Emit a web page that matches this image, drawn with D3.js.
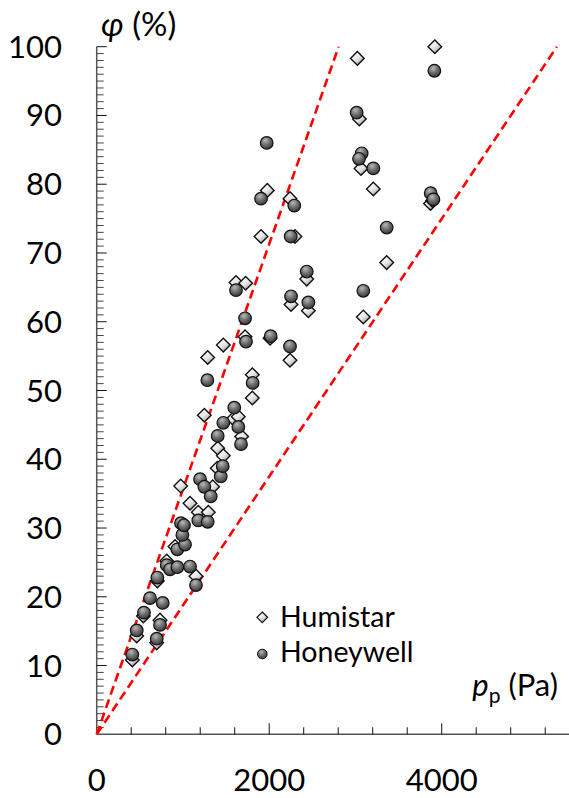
<!DOCTYPE html>
<html>
<head>
<meta charset="utf-8">
<script src="https://cdn.jsdelivr.net/npm/d3@7"></script>
<style>
  html, body { margin: 0; padding: 0; background: #fff; }
  svg { display: block; font-family: Lato, "Open Sans", sans-serif; }
</style>
</head>
<body>
<svg id="chart" width="569" height="798"></svg>
<script>
// Partial vapour pressure p_p (Pa) and relative humidity φ (%)
const humistarP = [413, 464, 541, 696, 734, 703, 812, 908, 974, 1082, 1178, 1294, 1151, 1248, 1287,
  1345, 1398, 1403, 1468, 1468, 1584, 1642, 1681, 1804, 1804, 1615, 1727, 1720, 2010, 2241,
  1905, 1978, 2241, 2299, 2435, 2253, 2454, 3022, 3045, 3064, 3207, 3362, 3091, 3870, 3895, 3920];
const humistarPhi = [10.8, 14.3, 17.2, 13.3, 16.6, 22.3, 25.2, 27.3, 36.1, 33.6, 32.3, 32.3, 23.0, 46.4, 54.8,
  36.0, 38.7, 41.6, 40.5, 56.6, 45.9, 46.2, 43.3, 52.3, 48.9, 65.7, 65.6, 57.8, 57.6, 54.4,
  72.4, 79.1, 77.9, 72.4, 66.2, 62.5, 61.6, 98.3, 89.5, 82.3, 79.3, 68.6, 60.7, 77.2, 77.6, 100];

const honeywellP = [413, 464, 548, 618, 696, 734, 765, 703, 812, 850, 935, 935, 1024, 993, 977, 1012,
  1082, 1151, 1178, 1287, 1198, 1248, 1322, 1283, 1403, 1438, 1461, 1468, 1595, 1642, 1673,
  1808, 1615, 1720, 1731, 2017, 2241, 1905, 1971, 2291, 2249, 2435, 2253, 2454,
  3014, 3072, 3041, 3207, 3362, 3091, 3872, 3903, 3915];
const honeywellPhi = [11.6, 15.1, 17.7, 19.8, 13.9, 15.9, 19.1, 22.8, 24.6, 24.0, 24.3, 26.9, 27.6, 29.0, 30.7, 30.4,
  24.4, 21.7, 31.1, 30.9, 37.1, 36.0, 34.6, 51.5, 43.4, 37.5, 39.0, 45.3, 47.5, 44.7, 42.2,
  51.1, 64.6, 60.5, 57.1, 57.9, 56.4, 77.9, 86.0, 76.9, 72.4, 67.3, 63.7, 62.8,
  90.4, 84.5, 83.7, 82.3, 73.7, 64.5, 78.7, 77.8, 96.5];

// Saturation pressures (Pa) bounding the dashed reference lines
const saturationP = [2805, 5335];

const seriesNames = ["Humistar", "Honeywell"];
const xTickLabels = [0, 2000, 4000];
const yTickLabels = [0, 10, 20, 30, 40, 50, 60, 70, 80, 90, 100];

const svg = d3.select("#chart");
const x = d3.scaleLinear().domain([0, 5500]).range([96.7, 571.1]);
const y = d3.scaleLinear().domain([0, 100]).range([734.3, 46.7]);

// gradients for the markers
const defs = svg.append("defs");
const rg = defs.append("radialGradient").attr("id", "ballGrad")
  .attr("cx", "40%").attr("cy", "30%").attr("r", "70%");
rg.append("stop").attr("offset", "0%").attr("stop-color", "#b8b8b8");
rg.append("stop").attr("offset", "55%").attr("stop-color", "#6a6a6a");
rg.append("stop").attr("offset", "100%").attr("stop-color", "#3a3a3a");
const lg = defs.append("linearGradient").attr("id", "diaGrad")
  .attr("x1", "20%").attr("y1", "10%").attr("x2", "80%").attr("y2", "90%");
lg.append("stop").attr("offset", "0%").attr("stop-color", "#ffffff");
lg.append("stop").attr("offset", "55%").attr("stop-color", "#e4e4e4");
lg.append("stop").attr("offset", "100%").attr("stop-color", "#9a9a9a");

// y axis
const yAxis = svg.append("g").attr("transform", `translate(${x(0)},0)`);
yAxis.append("line").attr("x1", 0).attr("x2", 0).attr("y1", y(100)).attr("y2", y(0))
  .attr("stroke", "#555").attr("stroke-width", 1.5);
yAxis.selectAll("line.minor").data(d3.range(1, 100)).join("line").attr("class", "minor")
  .attr("x1", 0).attr("x2", d => d % 10 === 0 ? 10 : 7)
  .attr("y1", d => y(d)).attr("y2", d => y(d))
  .attr("stroke", d => d % 10 === 0 ? "#111" : "#444").attr("stroke-width", 1);
yAxis.append("line").attr("x1", 0).attr("x2", 10).attr("y1", y(100)).attr("y2", y(100))
  .attr("stroke", "#111").attr("stroke-width", 1);
svg.selectAll("text.ytick").data(yTickLabels).join("text").attr("class", "ytick")
  .attr("x", 62).attr("y", d => y(d) + 11)
  .attr("text-anchor", "end").attr("font-size", 31).attr("fill", "#000")
  .text(d => d);

// x axis
const xAxis = svg.append("g").attr("transform", `translate(0,${y(0)})`);
xAxis.append("line").attr("x1", x(0)).attr("x2", 569).attr("y1", 0).attr("y2", 0)
  .attr("stroke", "#555").attr("stroke-width", 1.5);
xAxis.selectAll("line.tick").data(d3.range(400, 5600, 400)).join("line").attr("class", "tick")
  .attr("x1", d => x(d)).attr("x2", d => x(d))
  .attr("y1", 0).attr("y2", d => d % 2000 === 0 ? -11 : -7)
  .attr("stroke", "#111").attr("stroke-width", 1);
svg.selectAll("text.xtick").data(xTickLabels).join("text").attr("class", "xtick")
  .attr("x", d => x(d)).attr("y", 791)
  .attr("text-anchor", "middle").attr("font-size", 31).attr("fill", "#000")
  .text(d => d);

// axis titles
const yTitle = svg.append("text").attr("x", 101).attr("y", 36).attr("font-size", 33).attr("fill", "#000");
yTitle.append("tspan").attr("font-style", "italic").text("φ");
yTitle.append("tspan").text(" (%)");
const xTitle = svg.append("text").attr("x", 558).attr("y", 696).attr("text-anchor", "end")
  .attr("font-size", 31).attr("fill", "#000");
xTitle.append("tspan").attr("font-style", "italic").text("p");
xTitle.append("tspan").attr("font-size", 21).attr("dy", 7).text("p");
xTitle.append("tspan").attr("dy", -7).text(" (Pa)");

// dashed reference lines through the origin
svg.selectAll("line.ref").data(saturationP).join("line").attr("class", "ref")
  .attr("x1", x(0)).attr("y1", y(0)).attr("x2", d => x(d)).attr("y2", y(100))
  .attr("stroke", "#ff0000").attr("stroke-width", 2.6).attr("stroke-dasharray", "9,5");

// markers
const diamond = (cx, cy, r) => `M${cx},${cy - r}L${cx + r},${cy}L${cx},${cy + r}L${cx - r},${cy}Z`;
const humistar = humistarP.map((p, i) => ({ p, phi: humistarPhi[i] }));
const honeywell = honeywellP.map((p, i) => ({ p, phi: honeywellPhi[i] }));

svg.append("g").selectAll("path").data(humistar).join("path")
  .attr("d", d => diamond(x(d.p), y(d.phi), 6.8))
  .attr("fill", "url(#diaGrad)").attr("stroke", "#111").attr("stroke-width", 1.4);
svg.append("g").selectAll("circle").data(honeywell).join("circle")
  .attr("cx", d => x(d.p)).attr("cy", d => y(d.phi)).attr("r", 6.3)
  .attr("fill", "url(#ballGrad)").attr("stroke", "#111").attr("stroke-width", 1.2);

// legend
const legend = svg.append("g");
legend.append("path").attr("d", diamond(262.3, 617.3, 5.3))
  .attr("fill", "url(#diaGrad)").attr("stroke", "#111").attr("stroke-width", 1.2);
legend.append("circle").attr("cx", 262.3).attr("cy", 654).attr("r", 4.8)
  .attr("fill", "url(#ballGrad)").attr("stroke", "#111").attr("stroke-width", 1);
legend.selectAll("text").data(seriesNames).join("text")
  .attr("x", 280).attr("y", (d, i) => 626.5 + i * 35.5)
  .attr("font-size", 28.5).attr("fill", "#000").text(d => d);
</script>
</body>
</html>
